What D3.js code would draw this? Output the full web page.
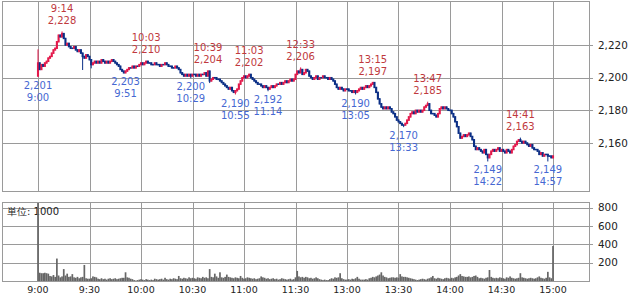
<!DOCTYPE html>
<html><head><meta charset="utf-8">
<script src="https://cdn.jsdelivr.net/npm/d3@7/dist/d3.min.js"></script>
<style>body{margin:0;background:#fff}svg{display:block}text{font-family:"DejaVu Sans",sans-serif}</style>
</head><body><svg id="c" width="633" height="296"></svg>
<script>
// ---- data (1-minute bars, index 0 = 9:00, index 150 = 12:30, index 300 = 15:00) ----
const firstOpen = 2201;
const closes = [
2209,2205,2208,2207,2209,2210,2212,2213,2215,2217,
2218,2222,2226,2225,2227,2224,2220,2221,2219,2218,
2218,2219,2217,2216,2217,2215,2213,2212,2214,2213,
2211,2208,2209,2210,2209,2210,2209,2211,2210,2209,
2210,2209,2210,2211,2210,2209,2208,2207,2205,2204,
2203,2204,2205,2206,2206,2207,2206,2207,2207,2208,
2209,2208,2209,2210,2209,2209,2208,2208,2209,2208,
2208,2207,2208,2208,2209,2208,2207,2207,2206,2206,
2207,2206,2205,2203,2202,2201,2202,2201,2202,2201,
2202,2202,2201,2202,2201,2202,2202,2203,2201,2204,
2198,2199,2200,2200,2199,2199,2198,2197,2196,2195,
2194,2193,2194,2192,2191,2192,2193,2196,2198,2200,
2201,2200,2201,2202,2200,2199,2198,2197,2196,2196,
2195,2194,2195,2194,2193,2194,2195,2194,2195,2196,
2196,2197,2196,2197,2198,2197,2198,2199,2198,2199,
2202,2204,2203,2205,2202,2203,2205,2204,2201,2200,
2199,2200,2201,2199,2200,2200,2201,2200,2200,2199,
2200,2199,2198,2196,2194,2193,2194,2193,2192,2193,
2193,2192,2192,2191,2192,2191,2192,2193,2194,2193,
2194,2195,2194,2195,2196,2197,2194,2191,2187,2184,
2182,2181,2182,2181,2182,2181,2179,2178,2176,2174,
2173,2172,2171,2171,2172,2174,2176,2178,2179,2178,
2180,2179,2180,2179,2180,2182,2183,2184,2180,2178,
2178,2177,2176,2178,2181,2182,2181,2182,2181,2180,
2180,2178,2176,2173,2170,2166,2163,2164,2165,2164,
2165,2166,2164,2162,2158,2156,2157,2156,2155,2154,
2156,2153,2151,2153,2155,2156,2155,2156,2157,2155,
2156,2155,2154,2156,2155,2154,2156,2158,2159,2161,
2162,2161,2160,2161,2160,2159,2158,2159,2157,2156,
2156,2155,2153,2154,2152,2153,2153,2152,2152,2151,
2152];
const volumes = [
1200,90,85,85,90,85,80,55,50,65,
45,245,60,40,50,130,60,80,45,50,
75,40,35,45,30,40,45,175,30,25,
25,30,50,45,40,25,20,30,20,25,
15,25,30,20,25,30,20,25,30,35,
35,95,40,35,25,20,10,5,10,15,
20,15,10,20,15,10,15,10,25,20,
15,20,25,15,35,20,15,25,20,30,
25,20,55,30,25,35,30,25,40,30,
35,30,25,40,35,30,45,35,40,30,
130,45,40,80,50,35,95,40,35,45,
70,45,40,35,30,40,35,30,55,35,
25,30,40,35,30,25,30,20,25,30,
50,40,35,25,30,20,25,30,20,25,
15,20,30,25,20,15,20,25,15,20,
40,110,50,40,45,35,45,40,30,35,
25,30,40,30,20,15,10,15,10,10,
20,30,25,40,35,40,85,30,20,15,
15,20,15,25,20,30,45,25,15,15,
15,20,15,30,35,45,40,50,60,70,
95,60,45,40,30,35,40,40,35,40,
35,75,50,45,45,40,35,30,25,20,
15,10,15,20,25,20,15,25,30,40,
55,30,25,35,30,25,20,30,35,30,
25,35,30,40,45,60,75,55,50,45,
45,50,40,45,55,60,45,30,35,30,
25,35,40,120,45,35,30,35,30,40,
35,30,25,40,35,50,35,30,25,30,
35,85,40,35,30,25,30,35,30,25,
30,40,50,35,30,25,35,100,40,30,
382];
const highMarks = [
  {i:14, t:"9:14", v:2228}, {i:63, t:"10:03", v:2210}, {i:99, t:"10:39", v:2204},
  {i:123, t:"11:03", v:2202}, {i:153, t:"12:33", v:2206}, {i:195, t:"13:15", v:2197},
  {i:227, t:"13:47", v:2185}, {i:281, t:"14:41", v:2163}];
const lowMarks = [
  {i:0, t:"9:00", v:2201}, {i:51, t:"9:51", v:2203}, {i:89, t:"10:29", v:2200},
  {i:115, t:"10:55", v:2190}, {i:134, t:"11:14", v:2192}, {i:185, t:"13:05", v:2190},
  {i:213, t:"13:33", v:2170}, {i:262, t:"14:22", v:2149}, {i:297, t:"14:57", v:2149}];
const extraHighs = [[0, 2217]];
const extraLows = [[26, 2205], [31, 2206], [100, 2197]];
const xTickIdx = [0,30,60,90,120,150,180,210,240,270,300];
const xTickLabels = ["9:00","9:30","10:00","10:30","11:00","11:30","13:00","13:30","14:00","14:30","15:00"];
const priceTicks = [2160,2180,2200,2220];
const volTicks = [200,400,600,800];
const unitLabel = "単位: 1000";

// ---- drawing ----
const svg = d3.select("#c");
const L = 2, R = 589, T1 = 1, B1 = 191, T2 = 202, B2 = 281;
const x = d3.scaleLinear().domain([0,300]).range([38,553]);
const y = d3.scaleLinear().domain([2160,2220]).range([143,45]);
const yv = d3.scaleLinear().domain([0,800]).range([281,207.7]);
const grid = "#9a9a9a";
const px = v => Math.round(v) + 0.5;
const fmt = d3.format(",");

function panel(top, bottom, ys) {
  const g = svg.append("g");
  g.selectAll(".v").data(xTickIdx).join("line")
    .attr("x1", d => px(x(d))).attr("x2", d => px(x(d)))
    .attr("y1", top).attr("y2", bottom).attr("stroke", grid);
  g.selectAll(".h").data(ys).join("line")
    .attr("x1", L).attr("x2", R + 4)
    .attr("y1", d => px(d)).attr("y2", d => px(d)).attr("stroke", grid);
  g.append("rect").attr("x", L + 0.5).attr("y", top + 0.5)
    .attr("width", R - L).attr("height", bottom - top)
    .attr("fill", "none").attr("stroke", grid);
}
panel(T1, B1, priceTicks.map(y));
panel(T2, B2, volTicks.map(yv));

// price labels
svg.append("g").selectAll("text").data(priceTicks).join("text")
  .attr("x", 598).attr("y", d => y(d)).attr("dy", "0.36em")
  .attr("font-size", 10.4).attr("fill", "#222").text(d => fmt(d));
svg.append("g").selectAll("text").data(volTicks).join("text")
  .attr("x", 598).attr("y", d => yv(d)).attr("dy", "0.36em")
  .attr("font-size", 10.4).attr("fill", "#222").text(d => d);
svg.append("g").selectAll("text").data(xTickIdx).join("text")
  .attr("x", d => x(d)).attr("y", 293).attr("text-anchor", "middle")
  .attr("font-size", 9.5).attr("fill", "#222").text((d, k) => xTickLabels[k]);
svg.append("text").attr("x", 7).attr("y", 215).attr("font-size", 10)
  .attr("fill", "#222").text(unitLabel);

// candles
const hiOver = new Map(extraHighs.concat(highMarks.map(m => [m.i, m.v])));
const loOver = new Map(extraLows.concat(lowMarks.map(m => [m.i, m.v])));
const bars = closes.map((c, i) => {
  const o = i === 0 ? firstOpen : closes[i - 1];
  let h = Math.max(o, c), l = Math.min(o, c);
  if (hiOver.has(i)) h = Math.max(h, hiOver.get(i));
  if (loOver.has(i)) l = Math.min(l, loOver.get(i));
  return {i, o, c, h, l};
});
const up = "#e3194b", down = "#0b2f86";
const cg = svg.append("g");
cg.selectAll("line").data(bars).join("line")
  .attr("x1", d => x(d.i)).attr("x2", d => x(d.i))
  .attr("y1", d => y(d.h) - 0.5).attr("y2", d => y(d.l) + 0.5)
  .attr("stroke", d => d.c > d.o ? up : down).attr("stroke-width", 1);
cg.selectAll("rect").data(bars).join("rect")
  .attr("x", d => x(d.i) - 1.05).attr("width", 2.1)
  .attr("y", d => y(Math.max(d.o, d.c)) - 0.7)
  .attr("height", d => Math.max(1.5, Math.abs(y(d.o) - y(d.c)) + 1.4))
  .attr("fill", d => d.c > d.o ? up : down);

// volume
svg.append("g").selectAll("rect").data(volumes).join("rect")
  .attr("x", (d, i) => x(i) - 0.85).attr("width", 1.7)
  .attr("y", d => Math.max(T2 + 1, yv(d)))
  .attr("height", d => B2 - Math.max(T2 + 1, yv(d)))
  .attr("fill", "#666");

// annotations
const ag = svg.append("g").attr("font-size", 10).attr("text-anchor", "middle");
highMarks.forEach(m => {
  ag.append("text").attr("x", x(m.i)).attr("y", y(m.v) - 20).attr("fill", "#c0393d").text(m.t);
  ag.append("text").attr("x", x(m.i)).attr("y", y(m.v) - 8).attr("fill", "#c0393d").text(fmt(m.v));
});
lowMarks.forEach(m => {
  ag.append("text").attr("x", x(m.i)).attr("y", y(m.v) + 12.5).attr("fill", "#4668d2").text(fmt(m.v));
  ag.append("text").attr("x", x(m.i)).attr("y", y(m.v) + 24.5).attr("fill", "#4668d2").text(m.t);
});
</script></body></html>
